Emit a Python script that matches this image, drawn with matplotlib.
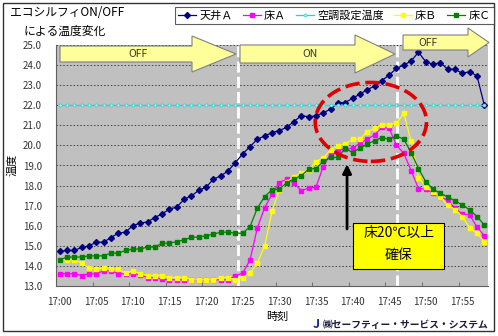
import matplotlib
matplotlib.use("Agg")
import matplotlib.pyplot as plt
from matplotlib.patches import Polygon, Rectangle, Ellipse

plt.rcParams['font.family'] = ['Noto Sans CJK JP', 'DejaVu Sans']

# one reading per minute, 17:00 - 17:58
times = [f"17:{m:02d}" for m in range(59)]
tick_labels = ['17:00', '17:05', '17:10', '17:15', '17:20', '17:25',
               '17:30', '17:35', '17:40', '17:45', '17:50', '17:55']

ceiling_a = [14.72, 14.77, 14.77, 14.92, 15.00, 15.18, 15.18, 15.41, 15.63, 15.68,
             16.01, 16.13, 16.19, 16.41, 16.59, 16.83, 16.93, 17.32, 17.49, 17.76,
             17.92, 18.32, 18.48, 18.73, 19.14, 19.58, 19.94, 20.31, 20.47, 20.64,
             20.74, 20.90, 21.19, 21.48, 21.43, 21.47, 21.63, 21.80, 22.13, 22.13,
             22.35, 22.55, 22.78, 22.95, 23.23, 23.50, 23.84, 24.00, 24.20, 24.64,
             24.17, 24.04, 24.12, 23.79, 23.79, 23.59, 23.67, 23.46, 22.00]
floor_a = [13.61, 13.61, 13.61, 13.52, 13.61, 13.61, 13.76, 13.76, 13.61, 13.61,
           13.61, 13.56, 13.42, 13.42, 13.34, 13.31, 13.31, 13.31, 13.31, 13.31,
           13.31, 13.31, 13.31, 13.31, 13.51, 13.64, 14.30, 15.90, 16.90, 17.57,
           18.15, 18.32, 18.12, 17.75, 17.87, 17.92, 18.95, 19.58, 19.78, 19.81,
           19.86, 20.11, 20.31, 20.52, 20.90, 20.85, 20.00, 19.61, 18.75, 17.85,
           17.82, 17.62, 17.45, 17.25, 16.88, 16.59, 16.54, 15.93, 15.50]
setpoint = [22.0, 22.0, 22.0, 22.0, 22.0, 22.0, 22.0, 22.0, 22.0, 22.0,
            22.0, 22.0, 22.0, 22.0, 22.0, 22.0, 22.0, 22.0, 22.0, 22.0,
            22.0, 22.0, 22.0, 22.0, 22.0, 22.0, 22.0, 22.0, 22.0, 22.0,
            22.0, 22.0, 22.0, 22.0, 22.0, 22.0, 22.0, 22.0, 22.0, 22.0,
            22.0, 22.0, 22.0, 22.0, 22.0, 22.0, 22.0, 22.0, 22.0, 22.0,
            22.0, 22.0, 22.0, 22.0, 22.0, 22.0, 22.0, 22.0, 22.0]
floor_b = [14.30, 14.30, 14.30, 14.14, 13.90, 13.84, 13.90, 13.84, 13.84, 13.64,
           13.76, 13.61, 13.52, 13.52, 13.52, 13.42, 13.42, 13.42, 13.31, 13.31,
           13.31, 13.31, 13.42, 13.42, 13.31, 13.42, 13.64, 14.14, 15.00, 16.71,
           17.79, 18.20, 18.42, 18.65, 18.78, 19.19, 19.39, 19.78, 19.98, 20.07,
           20.31, 20.31, 20.69, 20.86, 21.02, 21.02, 21.10, 21.60, 20.20, 18.40,
           17.95, 17.70, 17.42, 17.04, 16.79, 16.46, 15.88, 15.63, 15.21]
floor_c = [14.30, 14.44, 14.44, 14.44, 14.50, 14.50, 14.50, 14.64, 14.64, 14.77,
           14.84, 14.84, 14.94, 14.94, 15.13, 15.13, 15.21, 15.30, 15.43, 15.43,
           15.50, 15.58, 15.68, 15.68, 15.63, 15.63, 15.96, 16.88, 17.45, 17.79,
           17.82, 18.15, 18.32, 18.50, 18.82, 18.85, 19.20, 19.40, 19.40, 19.86,
           19.64, 19.86, 20.06, 20.24, 20.39, 20.31, 20.47, 20.31, 19.64, 18.85,
           18.20, 17.82, 17.62, 17.43, 17.24, 17.04, 16.79, 16.46, 16.04]

# aircon switching moments (minutes after 17:00)
switch_on = 24.4
switch_off = 46.1

W, H = 498, 336
fig = plt.figure(figsize=(W / 100, H / 100), dpi=100)


def px(x, y):
    """pixel position (from top-left) -> figure fraction"""
    return x / W, 1 - y / H


ax = fig.add_axes([56 / W, 50 / H, 432 / W, 241 / H])
ax.set_facecolor('#C0C0C0')
x = list(range(len(times)))

ax.plot(x, ceiling_a, color='#000080', lw=0.9, marker='D', ms=3, label='天井Ａ')
ax.plot(x, floor_a, color='#FF00FF', lw=0.9, marker='s', ms=2.4, label='床Ａ')
ax.plot(x, setpoint, color='#33CCCC', lw=0.9, marker='o', ms=2.2,
        mfc='#99FFFF', mew=0.5, label='空調設定温度')
ax.plot(x, floor_b, color='#FFFF00', lw=0.9, marker='s', ms=2.4, label='床Ｂ')
ax.plot(x, floor_c, color='#008000', lw=0.9, marker='s', ms=2.4, label='床Ｃ')

ax.axvline(switch_on, color='white', lw=2, ls=(0, (4, 1.5)), zorder=1)
ax.axvline(switch_off, color='white', lw=2, ls=(0, (4, 1.5)), zorder=1)

ax.set_xlim(-0.5, 58.5)
ax.set_ylim(13, 25)
ax.set_yticks(range(13, 26))
ax.set_yticklabels([f"{v:.1f}" for v in range(13, 26)])
ax.set_xticks([x[times.index(t)] for t in tick_labels])
ax.set_xticklabels(tick_labels)
ax.set_xticks([i + 4.5 for i in range(0, 55, 5)], minor=True)
ax.tick_params(axis='x', which='major', length=0, pad=8, labelsize=7, labelcolor='#333333')
ax.tick_params(axis='x', which='minor', length=3, direction='in', color='#606060')
ax.tick_params(axis='y', length=0, pad=10, labelsize=7, labelcolor='#333333')
ax.yaxis.grid(True, color='#404040', lw=0.7, ls=(0, (1.5, 2)))
ax.set_axisbelow(True)
for side in ('top', 'right'):
    ax.spines[side].set_visible(False)
for side in ('left', 'bottom'):
    ax.spines[side].set_color('#606060')
    ax.spines[side].set_linewidth(0.8)

# highlighted region and pointer
ax.add_patch(Ellipse((42.5, 21.17), 15.2, 3.93, fill=False, ec='#E00000', lw=2.6,
                     ls=(0, (4, 1.6)), zorder=6, clip_on=False))
ax.annotate('', xy=(39.25, 19.2), xytext=(39.25, 15.7),
            arrowprops=dict(arrowstyle='-|>', color='black', lw=2, mutation_scale=13),
            zorder=6)
ax.add_patch(Rectangle((40.07, 13.86), 12.43, 2.28, fc='#FFFF00', ec='black',
                       lw=0.8, zorder=7, clip_on=False))
ax.text(46.3, 15.65, '床20℃以上', ha='center', va='center', fontsize=10, zorder=8)
ax.text(46.3, 14.55, '確保', ha='center', va='center', fontsize=10, zorder=8)


# OFF / ON / OFF header arrows
def header_arrow(x0, tip, yc, hb, hh, hl, label, lx):
    pts = [(x0, yc - hb), (tip - hl, yc - hb), (tip - hl, yc - hh), (tip, yc),
           (tip - hl, yc + hh), (tip - hl, yc + hb), (x0, yc + hb)]
    fig.patches.append(Polygon([px(a, b) for a, b in pts], closed=True,
                               transform=fig.transFigure, fc='#FFFF99',
                               ec='#808080', lw=0.8, zorder=5))
    fig.text(*px(lx, yc), label, ha='center', va='center', fontsize=7.5,
             color='#333333', zorder=6)


header_arrow(60, 236, 54, 8, 18, 44, 'OFF', 138)
header_arrow(240, 395, 54, 9, 19, 40, 'ON', 310)
header_arrow(403, 489, 42.5, 7.5, 14.5, 21, 'OFF', 428)

# titles and labels
fig.text(*px(10, 13), 'エコシルフィON/OFF', fontsize=8.5, va='center', ha='left')
fig.text(*px(23, 31), 'による温度変化', fontsize=8.5, va='center', ha='left')
fig.text(*px(12, 165), '温度', fontsize=8, rotation=90, va='center', ha='center')
fig.text(*px(277, 317), '時刻', fontsize=8, va='center', ha='center')
fig.text(*px(316, 325), 'J', fontsize=9, fontweight='bold', color='#1A2A8C',
         va='center', ha='center')
fig.text(*px(323, 325), '㈱セーフティー・サービス・システム', fontsize=7,
         fontweight='bold', color='#1A1A40', va='center', ha='left')

leg = fig.legend(loc='upper right', bbox_to_anchor=px(494, 7), ncol=5, fontsize=8,
                 frameon=True, fancybox=False, edgecolor='#333333',
                 handlelength=1.6, handletextpad=0.3, columnspacing=0.9,
                 borderpad=0.3, borderaxespad=0)
leg.get_frame().set_linewidth(0.8)

# outer frame
fig.patches.append(Rectangle(px(3, 331), 491 / W, 328 / H, transform=fig.transFigure,
                             fill=False, ec='#333333', lw=1))

fig.savefig('out.png', dpi=100)
